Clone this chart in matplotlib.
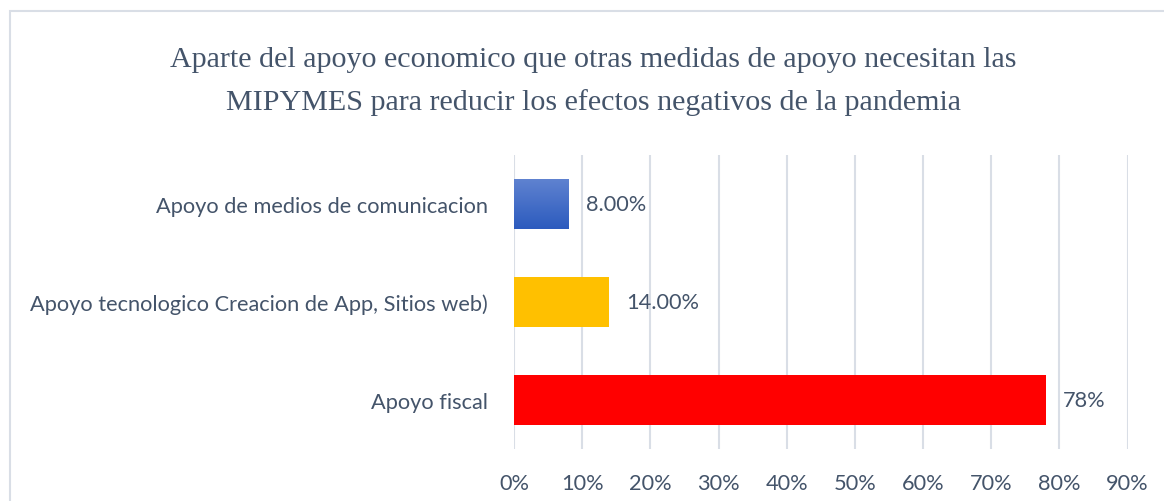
import matplotlib.pyplot as plt
import matplotlib.patches as mpatches
from matplotlib.colors import LinearSegmentedColormap
import numpy as np

categorias = ["Apoyo fiscal",
              "Apoyo tecnologico Creacion de App, Sitios web)",
              "Apoyo de medios de comunicacion"]
valores = [0.78, 0.14, 0.08]
etiquetas = ["78%", "14.00%", "8.00%"]
colores = ["#FF0000", "#FFC000", "#4472C4"]
ticks_x = np.arange(0, 1.0, 0.1)

txt = "#44546A"
grid = "#D9DEE6"
fuente = "Lato"
fs = 15.7

fig = plt.figure(figsize=(11.64, 5.02), dpi=100)
ax = fig.add_axes([0.4416, 0.1036, 0.5271, 0.5857])

y = np.arange(len(categorias))
bars = ax.barh(y, valores, height=0.51, color=colores, zorder=3)

# gradiente en la barra azul
b = bars[2]
grad = np.linspace(0, 1, 100).reshape(-1, 1)
cmap = LinearSegmentedColormap.from_list("g", ["#2C5BBE", "#5F82D0"])
ax.imshow(grad, cmap=cmap, aspect="auto", origin="lower", zorder=4,
          extent=[b.get_x(), b.get_x() + b.get_width(), b.get_y(), b.get_y() + b.get_height()])

for bar, lab in zip(bars, etiquetas):
    ax.text(bar.get_width() + 0.025, bar.get_y() + bar.get_height() / 2, lab,
            va="center", ha="left", fontsize=fs, color=txt, family=fuente)

ax.set_xlim(0, 0.9)
ax.set_ylim(-0.5, 2.5)
ax.set_xticks(ticks_x)
ax.set_xticklabels([f"{int(round(t * 100))}%" for t in ticks_x], fontsize=fs, color=txt, family=fuente)
ax.set_yticks(y)
ax.set_yticklabels(categorias, fontsize=fs, color=txt, family=fuente)
ax.tick_params(axis="y", length=0, pad=19)
ax.tick_params(axis="x", length=0, pad=17)
ax.grid(axis="x", color=grid, linewidth=1.5, zorder=0)
for s in ax.spines.values():
    s.set_visible(False)

fig.text(0.51, 0.838, "Aparte del apoyo economico que otras medidas de apoyo necesitan las\n"
         "MIPYMES para reducir los efectos negativos de la pandemia",
         ha="center", va="center", fontsize=21.6, color=txt, family="Liberation Serif",
         linespacing=1.75)

fig.patches.append(mpatches.Rectangle((10 / 1164, -0.01), 1.0, 1 - 12 / 502 + 0.01,
                                      transform=fig.transFigure, fill=False,
                                      edgecolor=grid, linewidth=1.5))

plt.savefig("out.png", dpi=100)
